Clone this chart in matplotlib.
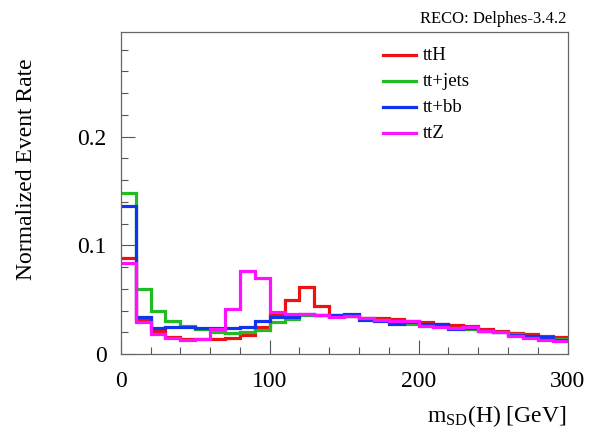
import numpy as np
import matplotlib
matplotlib.use('Agg')
import matplotlib.pyplot as plt
from matplotlib.ticker import MultipleLocator, FixedLocator

plt.rcParams.update({'font.family': 'Liberation Serif', 'mathtext.fontset': 'custom',
                     'mathtext.rm': 'Liberation Serif', 'mathtext.it': 'Liberation Serif:italic'})

# 10 GeV bins from 0 to 300
edges = np.arange(0, 310, 10)

tth = [0.088, 0.031, 0.021, 0.016, 0.0135, 0.0135, 0.0136, 0.015, 0.0175, 0.025,
       0.036, 0.050, 0.062, 0.044, 0.036, 0.035, 0.033, 0.033, 0.032, 0.030,
       0.029, 0.028, 0.027, 0.026, 0.023, 0.021, 0.019, 0.018, 0.0166, 0.016]
ttjets = [0.148, 0.060, 0.040, 0.030, 0.026, 0.023, 0.0206, 0.019, 0.0206, 0.022,
          0.029, 0.032, 0.036, 0.036, 0.035, 0.035, 0.033, 0.031, 0.029, 0.028,
          0.026, 0.026, 0.024, 0.023, 0.021, 0.020, 0.018, 0.017, 0.015, 0.014]
ttbb = [0.136, 0.034, 0.024, 0.025, 0.025, 0.024, 0.024, 0.024, 0.025, 0.030,
        0.034, 0.034, 0.037, 0.036, 0.036, 0.037, 0.031, 0.030, 0.028, 0.029,
        0.028, 0.0276, 0.023, 0.024, 0.021, 0.020, 0.0175, 0.017, 0.016, 0.013]
ttz = [0.084, 0.029, 0.018, 0.015, 0.013, 0.0135, 0.023, 0.041, 0.076, 0.070,
       0.039, 0.037, 0.037, 0.036, 0.034, 0.035, 0.033, 0.031, 0.030, 0.030,
       0.026, 0.025, 0.024, 0.025, 0.021, 0.020, 0.017, 0.015, 0.013, 0.012]

labels = ['ttH', 'tt+jets', 'tt+bb', 'ttZ']
colors = ['#ee1111', '#22bb22', '#1133ee', '#ff11ff']

fig = plt.figure(figsize=(5.9, 4.34), dpi=100)
ax = fig.add_axes([0.2046, 0.1843, 0.9619 - 0.2046, 0.9256 - 0.1843])

for vals, lab, c in zip([tth, ttjets, ttbb, ttz], labels, colors):
    ax.stairs(vals, edges, color=c, lw=2.3, label=lab, baseline=None)

ax.set_xlim(0, 300)
ax.set_ylim(0, 2 * max(ttjets))
ax.xaxis.set_major_locator(FixedLocator([0, 100, 200, 300]))
ax.xaxis.set_minor_locator(MultipleLocator(20))
ax.yaxis.set_major_locator(FixedLocator([0, 0.1, 0.2]))
ax.yaxis.set_minor_locator(MultipleLocator(0.02))
ax.set_yticklabels(['0', '0.1', '0.2'])
ax.tick_params(which='both', direction='in', top=False, right=False, color='#555555',
               labelsize=17)
ax.tick_params(which='major', length=10, width=0.8)
ax.tick_params(which='minor', length=5, width=0.8)
ax.tick_params(axis='x', pad=12)
ax.tick_params(axis='y', pad=10)
for s in ax.spines.values():
    s.set_color('#666666')
    s.set_linewidth(0.9)

fig.text(0.961, 1 - 421.7 / 434, r'm$_{\rm SD}$(H) [GeV]', ha='right', va='baseline', fontsize=17)
fig.text(27 / 590, 1 - 58 / 434, 'Normalized Event Rate', rotation=90, ha='center', va='top',
         fontsize=17)
fig.text(566 / 590, 1 - 23 / 434, 'RECO: Delphes-3.4.2', ha='right', va='baseline', fontsize=12)

# legend built by hand: ROOT-style, no frame
for i, (lab, c) in enumerate(zip(labels, colors)):
    yy = 1 - (55 + 26 * i) / 434
    fig.add_artist(plt.Line2D([383 / 590, 416 / 590], [yy, yy], color=c, lw=2.3))
    fig.text(423 / 590, yy, lab, ha='left', va='center', fontsize=13.5)

fig.savefig('out.png', dpi=100)
